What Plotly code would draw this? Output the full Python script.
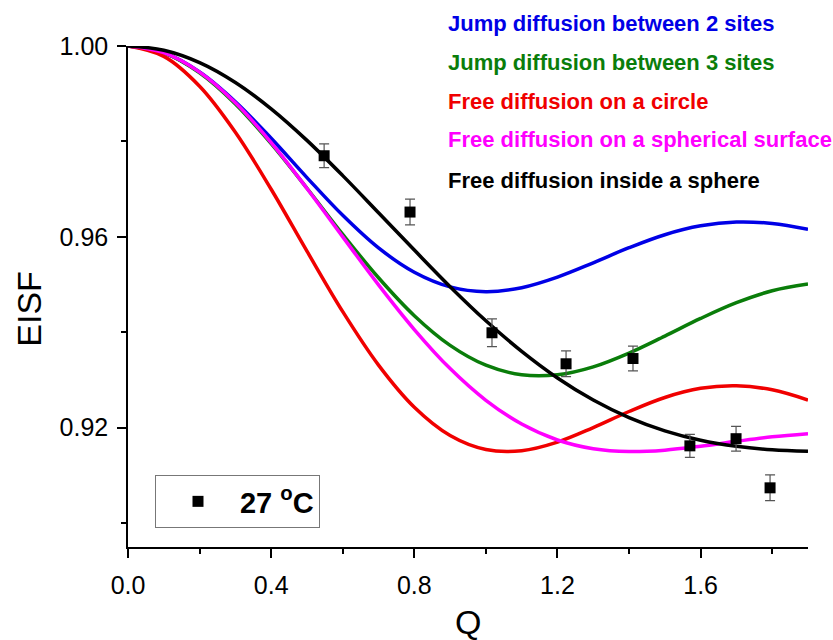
import plotly.graph_objects as go

# Model curves (Q step 0.1)
q_grid = [0.0, 0.1, 0.2, 0.3, 0.4, 0.5, 0.6, 0.7, 0.8, 0.9, 1.0,
          1.1, 1.2, 1.3, 1.4, 1.5, 1.6, 1.7, 1.8, 1.9]
jump2 = [1.0, 0.99859, 0.99455, 0.98832, 0.98066, 0.97242, 0.96451, 0.95768, 0.95258, 0.94951,
         0.94851, 0.94935, 0.95157, 0.95456, 0.95772, 0.96045, 0.96231, 0.96311, 0.96280, 0.96158]
jump3 = [1.0, 0.99857, 0.99438, 0.98786, 0.97954, 0.97018, 0.96053, 0.95143, 0.94348, 0.93726,
         0.93310, 0.93109, 0.93109, 0.93276, 0.93565, 0.93921, 0.94290, 0.94620, 0.94870, 0.95010]
circle = [1.0, 0.99783, 0.99157, 0.98193, 0.96998, 0.95700, 0.94432, 0.93312, 0.92429, 0.91837,
          0.91544, 0.91519, 0.91699, 0.92003, 0.92340, 0.92634, 0.92825, 0.92878, 0.92794, 0.92580]
sph_surface = [1.0, 0.99860, 0.99452, 0.98809, 0.97975, 0.97014, 0.96000, 0.94994, 0.94058, 0.93239,
               0.92575, 0.92077, 0.91743, 0.91560, 0.91500, 0.91530, 0.91613, 0.91715, 0.91809, 0.91874]
in_sphere = [1.0, 0.99912, 0.99653, 0.99236, 0.98683, 0.98022, 0.97283, 0.96505, 0.95723, 0.94956,
             0.94241, 0.93600, 0.93043, 0.92580, 0.92212, 0.91934, 0.91737, 0.91610, 0.91537, 0.91505]

# Experimental points
q_exp = [0.548, 0.788, 1.017, 1.224, 1.411, 1.570, 1.699, 1.794]
eisf_exp = [0.9770, 0.9652, 0.9399, 0.9334, 0.9345, 0.9162, 0.9177, 0.9074]
eisf_err = [0.0025, 0.0027, 0.0029, 0.0027, 0.0026, 0.0024, 0.0026, 0.0027]

series = [
    ("Jump diffusion between 2 sites", jump2, "#0000E6"),
    ("Jump diffusion between 3 sites", jump3, "#0A7D0A"),
    ("Free diffusion on a circle", circle, "#F00000"),
    ("Free diffusion on a spherical surface", sph_surface, "#FF00FF"),
    ("Free diffusion inside a sphere", in_sphere, "#000000"),
]

x_ticks = [0.0, 0.4, 0.8, 1.2, 1.6]
y_ticks = [0.92, 0.96, 1.00]

FONT = "Arial, Liberation Sans, sans-serif"

fig = go.Figure()
for name, vals, col in series:
    fig.add_trace(go.Scatter(x=q_grid, y=vals, mode="lines", name=name,
                             line=dict(color=col, width=3.5, shape="spline", smoothing=1.0),
                             showlegend=False, hoverinfo="skip"))

fig.add_trace(go.Scatter(
    x=q_exp, y=eisf_exp, mode="markers", name="<b>27 <sup>o</sup>C</b>",
    marker=dict(symbol="square", size=11, color="black"),
    error_y=dict(type="data", array=eisf_err, visible=True, color="#555555",
                 thickness=1.2, width=5),
    showlegend=True))

# legend text (coloured labels, top right)
label_y = [1.0459, 0.9661, 0.8902, 0.8124, 0.7325]
for (name, vals, col), yy in zip(series, label_y):
    fig.add_annotation(xref="paper", yref="paper", x=0.468, y=yy, text="<b>%s</b>" % name,
                       showarrow=False, xanchor="left", yanchor="middle",
                       font=dict(family=FONT, size=22, color=col))

# axis titles
fig.add_annotation(xref="paper", yref="paper", x=-0.146, y=0.475, text="EISF",
                   textangle=-90, showarrow=False, xanchor="center", yanchor="middle",
                   font=dict(family=FONT, size=34, color="black"))
fig.add_annotation(xref="paper", yref="paper", x=0.5, y=-0.15, text="Q",
                   showarrow=False, xanchor="center", yanchor="middle",
                   font=dict(family=FONT, size=34, color="black"))

fig.update_layout(
    width=833, height=640,
    margin=dict(l=128, r=25, t=46, b=93),
    paper_bgcolor="white", plot_bgcolor="white",
    font=dict(family=FONT, color="black"),
    showlegend=True,
    legend=dict(x=0.0397, y=0.1437, xanchor="left", yanchor="top",
                bordercolor="#777777", borderwidth=1, bgcolor="white",
                font=dict(family=FONT, size=29, color="black"),
                itemwidth=74),
)

fig.update_xaxes(range=[0, 1.9], tickvals=x_ticks, ticktext=["%.1f" % v for v in x_ticks],
                 showline=True, linecolor="black", linewidth=1.5, mirror=False,
                 ticks="outside", ticklen=9, tickwidth=1.5, tickcolor="black",
                 minor=dict(dtick=0.2, tick0=0, ticks="outside", ticklen=5, tickwidth=1.5,
                            tickcolor="black", showgrid=False),
                 showgrid=False, zeroline=False,
                 tickfont=dict(family=FONT, size=25, color="black"), ticklabelstandoff=6)
fig.update_yaxes(range=[0.895, 1.0], tickvals=y_ticks, ticktext=["%.2f" % v for v in y_ticks],
                 showline=True, linecolor="black", linewidth=1.5, mirror=False,
                 ticks="outside", ticklen=9, tickwidth=1.5, tickcolor="black",
                 minor=dict(dtick=0.02, tick0=0.9, ticks="outside", ticklen=5, tickwidth=1.5,
                            tickcolor="black", showgrid=False),
                 showgrid=False, zeroline=False,
                 tickfont=dict(family=FONT, size=25, color="black"), ticklabelstandoff=4)

fig.write_html("out.html")
